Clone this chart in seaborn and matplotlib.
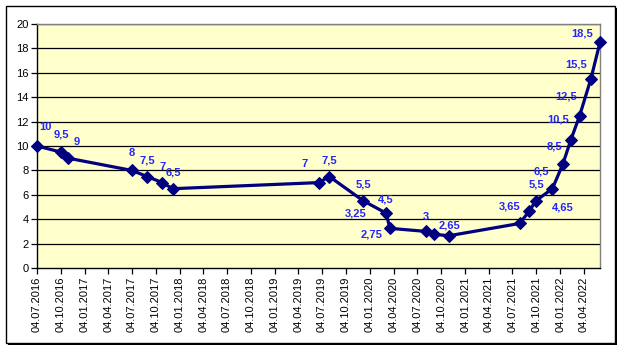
import numpy as np
import pandas as pd
import matplotlib
matplotlib.use("Agg")
import matplotlib.pyplot as plt
import matplotlib.dates as mdates
from matplotlib.patches import Rectangle
import seaborn as sns

# rate changes
dates = ["2016-07-04", "2016-10-04", "2016-11-01", "2017-07-03", "2017-08-31",
         "2017-10-28", "2017-12-07", "2019-06-22", "2019-08-01", "2019-12-10",
         "2020-03-06", "2020-03-21", "2020-08-06", "2020-09-07", "2020-11-04",
         "2021-08-01", "2021-09-07", "2021-10-02", "2021-12-05", "2022-01-14",
         "2022-02-14", "2022-03-20", "2022-05-02", "2022-06-06"]
rates = [10, 9.5, 9, 8, 7.5, 7, 6.5, 7, 7.5, 5.5, 4.5, 3.25, 3, 2.75, 2.65,
         3.65, 4.65, 5.5, 6.5, 8.5, 10.5, 12.5, 15.5, 18.5]
y_ticks = [0, 2, 4, 6, 8, 10, 12, 14, 16, 18, 20]
first_tick = "2016-07-04"
n_ticks = 24  # one every 3 months, up to 04.04.2022

df = pd.DataFrame({"date": pd.to_datetime(dates), "rate": rates})

plt.rcParams["font.family"] = ["Liberation Sans", "DejaVu Sans"]

fig = plt.figure(figsize=(6.24, 3.51), dpi=100)
ax = fig.add_axes([37 / 624, 1 - 268 / 351, 563 / 624, 244 / 351])
ax.set_facecolor("#FFFFCC")

# frame with a little shadow around the whole chart
fig.patches.append(Rectangle((8 / 624, 1 - 345 / 351), 609 / 624, 337 / 351,
                             transform=fig.transFigure, facecolor="black",
                             edgecolor="none", zorder=-3))
fig.patches.append(Rectangle((6 / 624, 1 - 343 / 351), 609 / 624, 337 / 351,
                             transform=fig.transFigure, facecolor="white",
                             edgecolor="black", linewidth=1, zorder=-2))

for y in y_ticks[1:]:
    ax.axhline(y, color="black", linewidth=0.9, zorder=1)

sns.lineplot(data=df, x="date", y="rate", ax=ax, color="#000080",
             linewidth=2.3, marker="D", markersize=6.5,
             markeredgecolor="#000080", zorder=3, clip_on=False)

# data labels (offset in pixels from each point)
offsets = [(8, 19), (0, 18), (8, 16), (0, 17), (0, 16), (0, 16), (1, 16),
           (-14, 19), (0, 16), (0, 16), (0, 14), (-34, 15), (0, 14), (-63, 0),
           (0, 10), (-10, 17), (34, 4), (1, 16), (-11, 17), (-8, 18),
           (-13, 20), (-14, 19), (-15, 14), (-18, 9)]
for d, r, off in zip(df["date"], df["rate"], offsets):
    ax.annotate(f"{r:g}".replace(".", ","), (d, r), xytext=off,
                textcoords="offset pixels", ha="center", va="center",
                fontsize=8, fontweight="bold", color="#2424FF", zorder=4)

ticks = [pd.Timestamp(first_tick) + pd.DateOffset(months=3 * i) for i in range(n_ticks)]
ax.set_xticks(ticks)
ax.xaxis.set_major_formatter(mdates.DateFormatter("%d.%m.%Y"))
ax.set_xlim(df["date"].iloc[0], df["date"].iloc[-1])
ax.set_ylim(0, 20)
ax.set_yticks(y_ticks)
ax.tick_params(axis="x", labelrotation=90, labelsize=8, length=4, width=0.9, pad=2)
ax.tick_params(axis="y", labelsize=8, length=4, width=0.9, pad=2)
ax.set_xlabel("")
ax.set_ylabel("")

for side in ["left", "bottom"]:
    ax.spines[side].set_color("black")
    ax.spines[side].set_linewidth(1)
for side in ["top", "right"]:
    ax.spines[side].set_color("#808080")
    ax.spines[side].set_linewidth(1)

fig.savefig("out.png", dpi=100)
